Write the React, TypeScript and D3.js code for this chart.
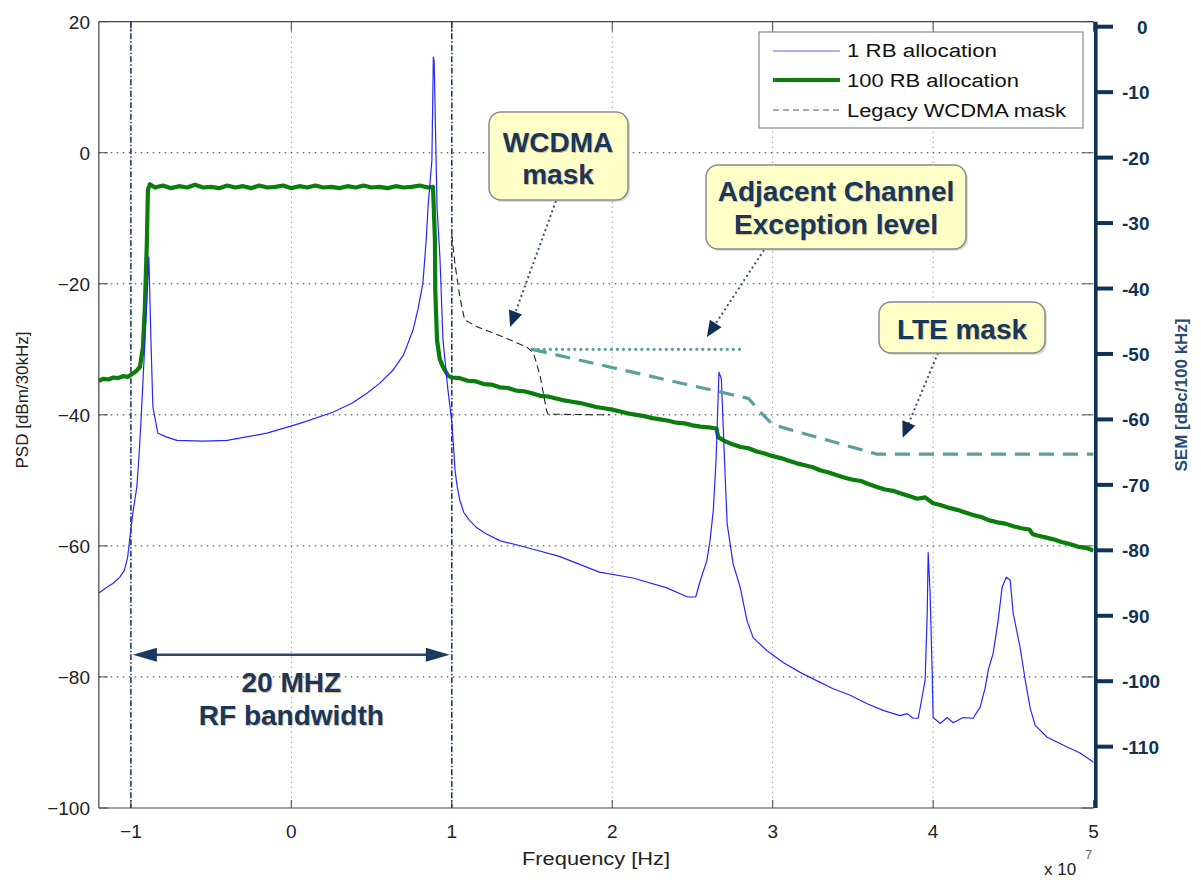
import React from "react";
import * as d3 from "d3";

// ---------- data (x in units of 1e7 Hz, y in dBm/30kHz) ----------
const xTicks = [-1, 0, 1, 2, 3, 4, 5];
const yTicks = [20, 0, -20, -40, -60, -80, -100];
const semTicks = [0, -10, -20, -30, -40, -50, -60, -70, -80, -90, -100, -110];

const rb1: [number, number][] = [
  [-1.2, -67.2], [-1.15, -66.3], [-1.11, -65.7], [-1.07, -64.8], [-1.04, -63.7], [-1.02, -61.7],
  [-1.006, -58.7], [-0.988, -55], [-0.963, -51], [-0.95, -46.5], [-0.935, -40], [-0.9, -22.5],
  [-0.888, -15.9], [-0.875, -28.6], [-0.863, -38.8], [-0.832, -42.8], [-0.776, -43.4], [-0.713, -43.9],
  [-0.55, -44.0], [-0.4, -43.9], [-0.152, -42.8], [0.054, -41.3], [0.259, -39.6], [0.38, -38.2],
  [0.471, -36.7], [0.55, -35.2], [0.633, -33.2], [0.7, -30.8], [0.758, -27.1], [0.79, -23.8],
  [0.82, -19.9], [0.84, -13.5], [0.852, -8.3], [0.876, -1.1], [0.885, 14.6],
  [0.89, 14.0], [0.908, -8.3], [0.926, -15.9], [0.945, -28.6], [0.976, -36.2], [1.001, -41.3],
  [1.02, -48.4], [1.035, -51.2], [1.05, -53], [1.075, -54.9], [1.11, -56.1], [1.15, -57.1],
  [1.21, -58.1], [1.3, -59.2], [1.49, -60.4],
  [1.67, -61.6], [1.92, -64.0], [2.13, -64.9], [2.34, -66.4], [2.47, -67.8], [2.52, -67.8],
  [2.55, -65.2], [2.59, -62.2], [2.61, -59.1], [2.63, -54.5], [2.647, -46.9], [2.665, -33.5],
  [2.68, -34.5], [2.7, -47], [2.716, -56.6], [2.753, -62.7], [2.797, -66.3], [2.84, -71.4],
  [2.878, -74], [2.965, -76], [3.065, -77.8], [3.171, -79.3], [3.277, -80.6], [3.377, -81.8],
  [3.483, -82.8], [3.589, -84.1], [3.688, -85.1], [3.794, -85.9], [3.838, -85.6], [3.875, -86.3],
  [3.907, -86.3], [3.931, -83.1], [3.95, -80.5], [3.963, -70.3], [3.969, -61], [3.981, -67.2],
  [3.994, -79.4], [4.0, -86.2], [4.044, -87.1], [4.087, -86.2], [4.125, -87], [4.187, -86.2],
  [4.249, -86.3], [4.293, -84.6], [4.324, -81.7], [4.343, -79], [4.374, -76.4], [4.405, -71.4],
  [4.43, -66.3], [4.455, -64.8], [4.48, -65.2], [4.499, -70.3], [4.542, -75.5], [4.574, -80.5],
  [4.605, -84.8], [4.636, -87.4], [4.711, -89.2], [4.835, -90.7], [4.916, -91.6], [5.0, -93],
];

const rb100: [number, number][] = [
  [-1.2, -34.8], [-1.17, -34.5], [-1.14, -34.6], [-1.11, -34.3], [-1.08, -34.4], [-1.05, -34.1],
  [-1.02, -34.2], [-1.0, -33.9], [-0.97, -33.4], [-0.944, -32.7], [-0.925, -29.7], [-0.913, -23.6],
  [-0.9, -13.3], [-0.894, -5.7], [-0.882, -4.8], [-0.85, -5.3], [-0.8, -5.0], [-0.75, -5.4],
  [-0.7, -5.1], [-0.65, -5.3], [-0.6, -4.9], [-0.55, -5.3], [-0.5, -5.2], [-0.45, -5.4],
  [-0.4, -5.0], [-0.35, -5.3], [-0.3, -5.1], [-0.25, -5.4], [-0.2, -5.0], [-0.15, -5.3],
  [-0.1, -5.2], [-0.05, -5.0], [0.0, -5.4], [0.05, -5.1], [0.1, -5.3], [0.15, -5.0],
  [0.2, -5.3], [0.25, -5.2], [0.3, -5.4], [0.35, -5.1], [0.4, -5.3], [0.45, -5.0],
  [0.5, -5.3], [0.55, -5.2], [0.6, -5.4], [0.65, -5.1], [0.7, -5.3], [0.75, -5.2],
  [0.8, -5.0], [0.85, -5.3], [0.883, -5.2], [0.895, -13.3], [0.897, -21], [0.908, -28.6],
  [0.925, -31.5], [0.945, -32.7], [0.976, -34.0], [1.0, -34.3], [1.05, -34.4], [1.1, -34.8],
  [1.15, -34.9], [1.2, -35.3], [1.25, -35.4], [1.3, -35.8], [1.35, -35.9], [1.4, -36.3],
  [1.45, -36.4], [1.5, -36.7], [1.55, -37.1], [1.6, -37.2], [1.65, -37.5], [1.7, -37.8],
  [1.75, -38.0], [1.8, -38.2], [1.85, -38.5], [1.9, -38.8], [1.95, -39.0], [2.0, -39.2],
  [2.05, -39.5], [2.1, -39.8], [2.15, -40.0], [2.2, -40.2], [2.25, -40.5], [2.3, -40.7],
  [2.35, -40.9], [2.4, -41.2], [2.45, -41.3], [2.5, -41.6], [2.55, -41.8], [2.6, -41.9],
  [2.65, -42.1], [2.66, -43.4], [2.7, -44.0], [2.75, -44.5], [2.8, -44.9], [2.85, -45.1],
  [2.9, -45.6], [2.95, -45.9], [3.0, -46.3], [3.05, -46.6], [3.1, -47.0], [3.15, -47.4],
  [3.2, -47.7], [3.25, -48.0], [3.3, -48.5], [3.35, -48.8], [3.4, -49.2], [3.45, -49.6],
  [3.5, -49.9], [3.55, -50.1], [3.6, -50.6], [3.65, -51.0], [3.7, -51.4], [3.75, -51.6],
  [3.8, -52.0], [3.85, -52.4], [3.9, -52.8], [3.95, -52.6], [4.0, -53.5], [4.05, -53.8],
  [4.1, -54.2], [4.15, -54.5], [4.2, -54.9], [4.25, -55.3], [4.3, -55.6], [4.35, -56.1],
  [4.4, -56.4], [4.45, -56.6], [4.5, -57.0], [4.55, -57.3], [4.6, -57.5], [4.62, -58.2],
  [4.65, -58.4], [4.7, -58.7], [4.75, -59.0], [4.8, -59.4], [4.85, -59.7], [4.9, -60.1],
  [4.95, -60.3], [5.0, -60.7],
];

const legacyMask: [number, number][] = [
  [1.0, -12.5], [1.02, -17], [1.05, -22], [1.08, -25.5], [1.16, -26.6], [1.32, -28.1],
  [1.47, -29.7], [1.51, -30.6], [1.55, -34], [1.59, -39.3], [1.6, -39.9], [1.98, -40],
];

const exceptionLevel: [number, number][] = [[1.5, -30], [2.82, -30]];

const lteMask: [number, number][] = [
  [1.5, -30], [2.85, -37.5], [2.92, -39.5], [3.0, -41.5], [3.65, -46], [5.0, -46],
];

const legendLabels = ["1 RB allocation", "100 RB allocation", "Legacy WCDMA mask"];

// ---------- layout ----------
const W = 1201;
const H = 880;
const L = 98.8, R = 1093.6, T = 21.7, B = 808;
const NAVY = "#17375e";
const AXNAVY = "#0f3356";
const TEAL = "#5a9e9e";
const FONT = "'Liberation Sans', Arial, Helvetica, sans-serif";

const x = d3.scaleLinear().domain([-1.2, 5]).range([L, R]);
const y = d3.scaleLinear().domain([-100, 20]).range([B, T]);
const ySem = d3.scaleLinear().domain([-119.37, 0.764]).range([B, T]);

const line = d3
  .line<[number, number]>()
  .x((d) => x(d[0]))
  .y((d) => y(d[1]));

function Arrow({ x1, y1, x2, y2 }: { x1: number; y1: number; x2: number; y2: number }) {
  const ang = Math.atan2(y2 - y1, x2 - x1);
  const len = 16, half = 7;
  const bx = x2 - len * Math.cos(ang), by = y2 - len * Math.sin(ang);
  const px = -Math.sin(ang) * half, py = Math.cos(ang) * half;
  return (
    <g>
      <line x1={x1} y1={y1} x2={bx} y2={by} stroke="#34507a" strokeWidth={2} strokeDasharray="2,3" />
      <polygon points={`${x2},${y2} ${bx + px},${by + py} ${bx - px},${by - py}`} fill="#0f2f55" />
    </g>
  );
}

function Callout({ bx, by, bw, bh, lines, cx, baselines }: {
  bx: number; by: number; bw: number; bh: number; lines: string[]; cx: number; baselines: number[];
}) {
  return (
    <g>
      <rect x={bx + 2} y={by + 2} width={bw} height={bh} rx={12} fill="#9a9a9a" opacity={0.35} />
      <rect x={bx} y={by} width={bw} height={bh} rx={12} fill="#ffffc8" stroke="#8a8a8a" strokeWidth={1.5} />
      {lines.map((t, i) => (
        <g key={i}>
          <text x={cx + 1} y={baselines[i] + 1} textAnchor="middle" fontFamily={FONT} fontWeight="bold"
            fontSize={28} fill="#c89a5a" opacity={0.6}>{t}</text>
          <text x={cx} y={baselines[i]} textAnchor="middle" fontFamily={FONT} fontWeight="bold"
            fontSize={28} fill={NAVY}>{t}</text>
        </g>
      ))}
    </g>
  );
}

export default function App() {
  const fmt = (v: number) => (v < 0 ? "\u2212" + Math.abs(v) : String(v));
  return (
    <svg width={W} height={H} style={{ position: "absolute", left: 0, top: 0, background: "#fff" }}
      fontFamily={FONT}>
      <rect x={0} y={0} width={W} height={H} fill="#fff" />
      <defs>
        <clipPath id="plot">
          <rect x={L} y={T} width={R - L} height={B - T} />
        </clipPath>
      </defs>

      {/* grid */}
      {xTicks.filter((v) => v !== -1 && v !== 1 && v !== 5).map((v) => (
        <line key={"gx" + v} x1={x(v)} x2={x(v)} y1={T} y2={B} stroke="#777" strokeWidth={1}
          strokeDasharray="1,4" />
      ))}
      {yTicks.filter((v) => v !== 20 && v !== -100).map((v) => (
        <line key={"gy" + v} x1={L} x2={R} y1={y(v)} y2={y(v)} stroke="#333" strokeWidth={1}
          strokeDasharray="1.5,4.5" />
      ))}

      {/* inner ticks (box style) */}
      {xTicks.map((v) => (
        <g key={"tx" + v}>
          <line x1={x(v)} x2={x(v)} y1={B} y2={B - 8} stroke="#444" />
          <line x1={x(v)} x2={x(v)} y1={T} y2={T + 10} stroke="#444" />
        </g>
      ))}
      {yTicks.map((v) => (
        <g key={"ty" + v}>
          <line x1={L} x2={L + 9} y1={y(v)} y2={y(v)} stroke="#444" />
          <line x1={R} x2={R - 12} y1={y(v)} y2={y(v)} stroke="#555" />
        </g>
      ))}

      {/* RF bandwidth boundaries */}
      {[-1, 1].map((v) => (
        <line key={"bw" + v} x1={x(v)} x2={x(v)} y1={T} y2={B} stroke="#1d3d66" strokeWidth={1.6}
          strokeDasharray="6,2,1.5,2" />
      ))}

      <g clipPath="url(#plot)">
        <path d={line(rb100) || ""} fill="none" stroke="#0a7d0a" strokeWidth={4.2} strokeLinejoin="round" />
        <path d={line(rb1) || ""} fill="none" stroke="#2626ff" strokeWidth={1.2} strokeLinejoin="round" />
        <path d={line(legacyMask) || ""} fill="none" stroke="#222" strokeWidth={1.1} strokeDasharray="7,4" />
        <path d={line(exceptionLevel) || ""} fill="none" stroke={TEAL} strokeWidth={3.2}
          strokeDasharray="0.1,6" strokeLinecap="round" />
        <path d={line(lteMask) || ""} fill="none" stroke={TEAL} strokeWidth={3.2} strokeDasharray="15,9" />
      </g>

      {/* frame */}
      <line x1={L} x2={R} y1={T} y2={T} stroke="#444" strokeWidth={1.2} />
      <line x1={L} x2={R} y1={B} y2={B} stroke="#444" strokeWidth={1.2} />
      <line x1={L} x2={L} y1={T} y2={B} stroke="#444" strokeWidth={1.2} />

      {/* annotations: bandwidth arrow */}
      <g>
        <line x1={x(-1) + 14} x2={x(1) - 14} y1={y(-76.6)} y2={y(-76.6)} stroke="#2b4a70" strokeWidth={2.5} />
        <polygon points={`${x(-1) + 2},${y(-76.6)} ${x(-1) + 26},${y(-76.6) - 7} ${x(-1) + 26},${y(-76.6) + 7}`}
          fill="#173a5e" />
        <polygon points={`${x(1) - 2},${y(-76.6)} ${x(1) - 26},${y(-76.6) - 7} ${x(1) - 26},${y(-76.6) + 7}`}
          fill="#173a5e" />
        {["20 MHZ", "RF bandwidth"].map((t, i) => (
          <g key={t}>
            <text x={x(0) + 1} y={[692, 725][i] + 1} textAnchor="middle" fontWeight="bold" fontSize={28}
              fill="#c89a5a" opacity={0.6}>{t}</text>
            <text x={x(0)} y={[692, 725][i]} textAnchor="middle" fontWeight="bold" fontSize={28}
              fill={NAVY}>{t}</text>
          </g>
        ))}
      </g>

      {/* callouts */}
      <Arrow x1={556} y1={201} x2={x(1.363)} y2={y(-26.6)} />
      <Arrow x1={764} y1={250} x2={x(2.59)} y2={y(-28.1)} />
      <Arrow x1={938} y1={353} x2={x(3.81)} y2={y(-43.5)} />
      <Callout bx={489} by={112} bw={139} bh={88} lines={["WCDMA", "mask"]} cx={558} baselines={[152, 184]} />
      <Callout bx={706} by={165} bw={260} bh={84} lines={["Adjacent Channel", "Exception level"]} cx={836}
        baselines={[201, 234]} />
      <Callout bx={879} by={302} bw={166} bh={51} lines={["LTE mask"]} cx={962} baselines={[339]} />

      {/* legend */}
      <g>
        <rect x={759} y={32} width={324} height={96} fill="#fff" stroke="#888" strokeWidth={1.2} />
        <line x1={773} x2={840} y1={51} y2={51} stroke="#8f8fff" strokeWidth={1.3} />
        <line x1={773} x2={840} y1={80} y2={80} stroke="#0a7d0a" strokeWidth={4} />
        <line x1={773} x2={840} y1={110} y2={110} stroke="#555" strokeWidth={1} strokeDasharray="6,4" />
        {legendLabels.map((t, i) => (
          <text key={t} x={847} y={[57, 87, 117][i]} fontSize={18} fill="#111"
            textLength={[150, 172, 219][i]} lengthAdjust="spacingAndGlyphs">{t}</text>
        ))}
      </g>

      {/* left axis labels */}
      {yTicks.map((v) => (
        <text key={"ly" + v} x={90} y={y(v) + 7} textAnchor="end" fontSize={19} fill="#222">{fmt(v)}</text>
      ))}
      {xTicks.map((v) => (
        <text key={"lx" + v} x={x(v)} y={838} textAnchor="middle" fontSize={19} fill="#222">{fmt(v)}</text>
      ))}
      <text x={596} y={865} textAnchor="middle" fontSize={18} fill="#222" textLength={148}
        lengthAdjust="spacingAndGlyphs">Frequency [Hz]</text>
      <text x={1044} y={875} fontSize={17} fill="#222">x 10</text>
      <text x={1085} y={859} fontSize={13} fill="#666">7</text>
      <text transform={`translate(22,400) rotate(-90)`} dy="0.35em" textAnchor="middle" fontSize={17}
        fill="#222">PSD [dBm/30kHz]</text>

      {/* right SEM axis */}
      <line x1={1095.8} x2={1095.8} y1={T} y2={B} stroke={AXNAVY} strokeWidth={3.6} />
      {semTicks.map((v) => (
        <g key={"sem" + v}>
          <line x1={1096} x2={1113} y1={ySem(v)} y2={ySem(v)} stroke={AXNAVY} strokeWidth={4} />
          <text x={v === 0 ? 1137 : 1122} y={ySem(v) + 7} fontSize={19} fontWeight="bold" fill={AXNAVY}>
            {String(v)}
          </text>
        </g>
      ))}
      <text transform={`translate(1181,395) rotate(-90)`} dy="0.35em" textAnchor="middle" fontSize={17}
        fontWeight="bold" fill="#2a4a72">SEM [dBc/100 kHz]</text>
    </svg>
  );
}
